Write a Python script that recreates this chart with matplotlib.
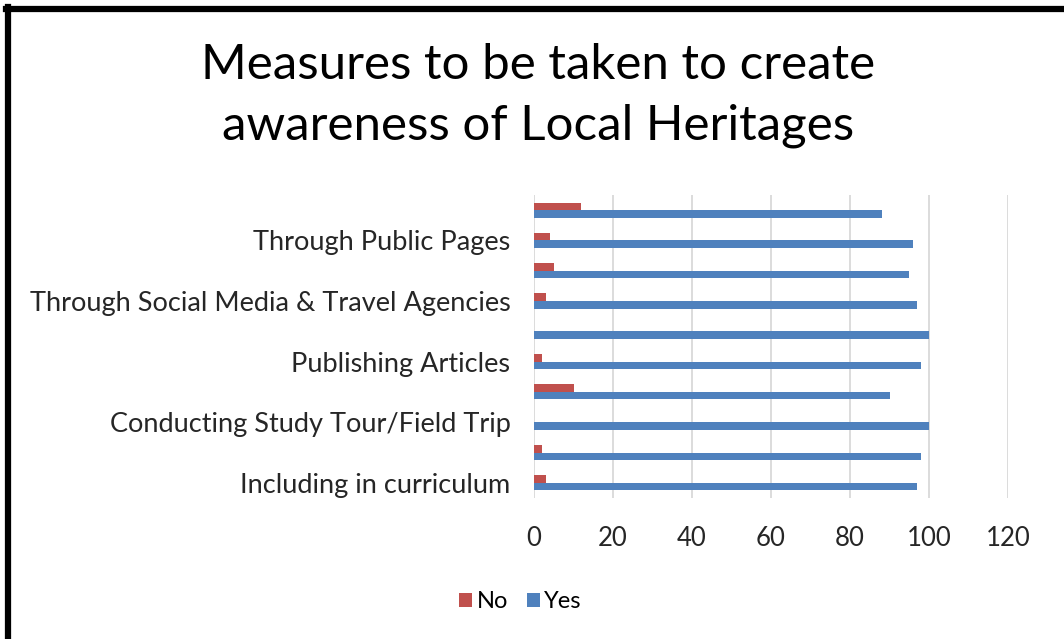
import matplotlib
matplotlib.use("Agg")
import matplotlib.pyplot as plt
import numpy as np
from matplotlib.lines import Line2D

FONT = "Lato"
plt.rcParams["font.family"] = [FONT, "DejaVu Sans"]

# Categories bottom -> top (unlabeled ones are skipped by the axis in the original)
categories = ["Including in curriculum", "", "Conducting Study Tour/Field Trip", "",
              "Publishing Articles", "", "Through Social Media & Travel Agencies", "",
              "Through Public Pages", ""]
no_vals = [3, 2, 0, 10, 2, 0, 3, 5, 4, 12]
yes_vals = [97, 98, 100, 90, 98, 100, 97, 95, 96, 88]
xticks = [0, 20, 40, 60, 80, 100, 120]

RED = "#C0504D"
BLUE = "#4F81BD"

fig = plt.figure(figsize=(10.64, 6.39), dpi=100)
ax = fig.add_axes([0.5019, 0.2207, 0.4455, 0.4742])

y = np.arange(len(categories))
h = 0.25
ax.barh(y + h / 2, no_vals, height=h, color=RED, label="No", zorder=3)
ax.barh(y - h / 2, yes_vals, height=h, color=BLUE, label="Yes", zorder=3)

ax.set_xlim(0, 120)
ax.set_ylim(-0.5, len(categories) - 0.5)
ax.set_xticks(xticks)
ax.set_xticklabels([str(v) for v in xticks], fontsize=18.5, color="#262626")
ax.set_yticks(y)
ax.set_yticklabels(categories, fontsize=19.5, color="#262626")
ax.tick_params(axis="both", length=0)
ax.tick_params(axis="y", pad=17)
ax.tick_params(axis="x", pad=20)
ax.grid(axis="x", color="#D9D9D9", linewidth=1.3, zorder=0)
for s in ax.spines.values():
    s.set_visible(False)

fig.text(0.506, 0.8505, "Measures to be taken to create\nawareness of Local Heritages",
         ha="center", va="center", fontsize=35.5, linespacing=1.45, color="black")

leg = fig.legend(loc="center", bbox_to_anchor=(0.489, 0.058), ncol=2, frameon=False,
                 fontsize=17, handlelength=0.55, handleheight=0.55, handletextpad=0.2,
                 columnspacing=0.8)

# outer frame (left and top edges visible)
fig.add_artist(Line2D([8 / 1064, 8 / 1064], [0, 1 - 7 / 639], transform=fig.transFigure,
                      color="black", linewidth=4.5))
fig.add_artist(Line2D([6 / 1064, 1], [1 - 9 / 639, 1 - 9 / 639], transform=fig.transFigure,
                      color="black", linewidth=4.5))

fig.savefig("out.png", dpi=100)
